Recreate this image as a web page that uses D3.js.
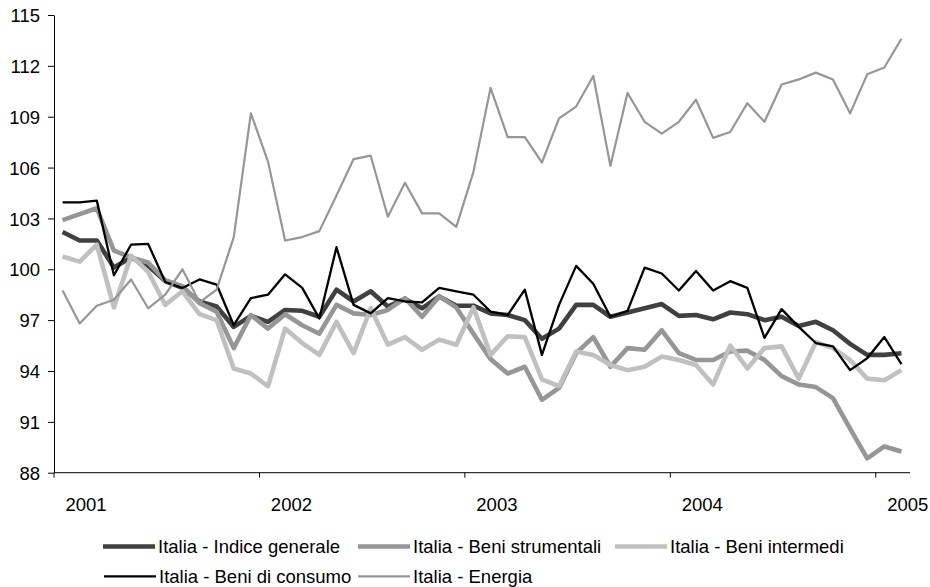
<!DOCTYPE html>
<html>
<head>
<meta charset="utf-8">
<script src="https://cdn.jsdelivr.net/npm/d3@7"></script>
<style>
  html, body { margin: 0; padding: 0; background: #fff; }
  svg { display: block; font-family: Arial, "Liberation Sans", sans-serif; }
</style>
</head>
<body>
<svg id="chart" width="930" height="587"></svg>
<script>
const months = [
  "2001-01","2001-02","2001-03","2001-04","2001-05","2001-06","2001-07","2001-08","2001-09","2001-10","2001-11","2001-12",
  "2002-01","2002-02","2002-03","2002-04","2002-05","2002-06","2002-07","2002-08","2002-09","2002-10","2002-11","2002-12",
  "2003-01","2003-02","2003-03","2003-04","2003-05","2003-06","2003-07","2003-08","2003-09","2003-10","2003-11","2003-12",
  "2004-01","2004-02","2004-03","2004-04","2004-05","2004-06","2004-07","2004-08","2004-09","2004-10","2004-11","2004-12",
  "2005-01","2005-02"
];
const yearLabels = ["2001","2002","2003","2004","2005"];
const yearStartMonths = ["2001-01","2002-01","2003-01","2004-01","2005-01"];
const yTicks = [88, 91, 94, 97, 100, 103, 106, 109, 112, 115];

const seriesNames = [
  "Italia - Indice generale",
  "Italia - Beni strumentali",
  "Italia - Beni intermedi",
  "Italia - Beni di consumo",
  "Italia - Energia"
];

const indiceGenerale = [102.2,101.7,101.7,100.1,100.7,100.2,99.3,98.9,98.1,97.8,96.6,97.25,
  96.9,97.6,97.55,97.2,98.8,98.1,98.7,97.8,98.25,97.7,98.4,97.85,
  97.85,97.4,97.3,97.0,95.9,96.5,97.9,97.9,97.2,97.45,97.7,97.95,
  97.25,97.3,97.05,97.45,97.35,97.0,97.2,96.65,96.9,96.4,95.6,94.95,
  94.95,95.05];
const beniStrumentali = [102.9,103.25,103.6,101.1,100.7,100.4,99.35,99.0,98.0,97.5,95.35,97.3,
  96.5,97.35,96.7,96.2,97.9,97.4,97.3,97.6,98.3,97.2,98.4,97.75,
  96.2,94.7,93.85,94.25,92.3,93.0,95.05,96.0,94.25,95.35,95.25,96.4,
  95.05,94.65,94.65,95.15,95.2,94.65,93.7,93.2,93.05,92.4,90.6,88.85,
  89.55,89.25];
const beniIntermedi = [100.75,100.45,101.45,97.75,100.8,99.85,97.9,98.7,97.35,97.0,94.15,93.85,
  93.1,96.5,95.65,94.95,96.9,95.05,97.7,95.55,96.0,95.25,95.85,95.55,
  97.75,94.95,96.05,96.0,93.5,93.1,95.15,94.95,94.35,94.05,94.25,94.85,
  94.65,94.35,93.2,95.5,94.15,95.35,95.45,93.55,95.7,95.35,94.65,93.55,
  93.45,94.05];
const beniConsumo = [103.95,103.95,104.05,99.65,101.45,101.5,99.25,98.9,99.4,99.1,96.7,98.3,
  98.5,99.7,98.9,97.1,101.3,97.9,97.4,98.3,98.1,98.05,98.9,98.7,
  98.5,97.5,97.3,98.8,94.95,97.9,100.2,99.15,97.2,97.55,100.1,99.75,
  98.75,99.9,98.75,99.3,98.9,95.95,97.65,96.6,95.65,95.45,94.05,94.75,
  96.0,94.4];
const energia = [98.75,96.8,97.85,98.2,99.4,97.7,98.5,100.0,98.05,98.8,101.9,109.2,
  106.35,101.7,101.9,102.25,104.35,106.5,106.7,103.1,105.1,103.3,103.3,102.5,
  105.75,110.7,107.8,107.8,106.3,108.9,109.6,111.4,106.1,110.4,108.7,108.0,
  108.7,110.0,107.75,108.1,109.8,108.7,110.9,111.2,111.6,111.2,109.2,111.5,
  111.9,113.6];

const seriesValues = [indiceGenerale, beniStrumentali, beniIntermedi, beniConsumo, energia];
const seriesStyle = [
  {color: "#404040", width: 4.6},
  {color: "#969696", width: 4.6},
  {color: "#c0c0c0", width: 4.6},
  {color: "#000000", width: 2.3},
  {color: "#969696", width: 2.2}
];

const svg = d3.select("#chart");
const plotLeft = 54, plotRight = 910, plotTop = 15, plotBottom = 472.7;
const FS = "18.5px";

const x = d3.scaleBand().domain(months).range([plotLeft, plotRight]).paddingInner(0).paddingOuter(0);
const y = d3.scaleLinear().domain([88, 115]).range([plotBottom, plotTop]);

// Y axis
const yAxis = svg.append("g").attr("transform", `translate(${plotLeft},0)`)
  .call(d3.axisLeft(y).tickValues(yTicks).tickFormat(d3.format("d")).tickSize(6).tickSizeOuter(0).tickPadding(8));
yAxis.selectAll("text").attr("font-size", FS).attr("fill", "#000").attr("dy", "0.36em");
yAxis.selectAll("line, path").attr("stroke", "#000");

// X axis: ticks at the start of each year's first month band
const xa = svg.append("g").attr("transform", `translate(0,${plotBottom})`);
xa.append("line").attr("x1", plotLeft).attr("x2", plotRight).attr("y1", 0).attr("y2", 0).attr("stroke", "#000");
const xt = xa.selectAll("g.tick").data(yearStartMonths).join("g").attr("class", "tick")
  .attr("transform", m => `translate(${x(m)},0)`);
xt.append("line").attr("y1", 0).attr("y2", 5).attr("stroke", "#000");
xt.append("text").attr("x", 32).attr("y", 38).attr("text-anchor", "middle")
  .attr("font-size", FS).attr("fill", "#000").text((m, i) => yearLabels[i]);

// Lines
const line = d3.line()
  .x((d, i) => x(months[i]) + x.bandwidth() / 2)
  .y(d => y(d))
  .curve(d3.curveLinear);

seriesValues.forEach((vals, s) => {
  svg.append("path")
    .datum(vals)
    .attr("fill", "none")
    .attr("stroke", seriesStyle[s].color)
    .attr("stroke-width", seriesStyle[s].width)
    .attr("stroke-linejoin", "round")
    .attr("stroke-linecap", "butt")
    .attr("d", line);
});

// Legend
const legendPos = [
  {x: 103, y: 546.5}, {x: 358, y: 546.5}, {x: 615, y: 546.5},
  {x: 104, y: 576.3}, {x: 358, y: 576.3}
];
const lg = svg.append("g");
seriesNames.forEach((name, s) => {
  const p = legendPos[s];
  lg.append("line").attr("x1", p.x).attr("x2", p.x + 52).attr("y1", p.y).attr("y2", p.y)
    .attr("stroke", seriesStyle[s].color).attr("stroke-width", seriesStyle[s].width);
  lg.append("text").attr("x", p.x + 55).attr("y", p.y).attr("dy", "0.35em")
    .attr("font-size", FS).attr("fill", "#000").text(name);
});
</script>
</body>
</html>
